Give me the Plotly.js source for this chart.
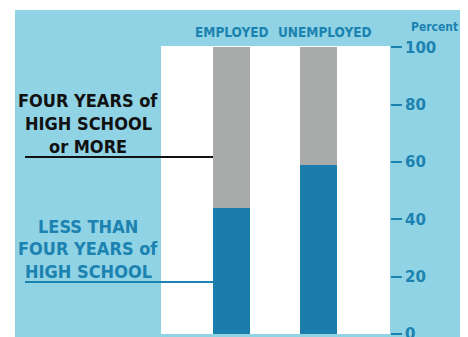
<!DOCTYPE html>
<html>
<head>
<meta charset="utf-8">
<script src="https://cdn.plot.ly/plotly-3.0.1.min.js"></script>
<style>
  html, body { margin: 0; padding: 0; background: #ffffff; width: 468px; height: 337px; overflow: hidden; }
  #chart { position: absolute; left: 15px; top: 10px; width: 445px; height: 327px; }
</style>
</head>
<body>
<div id="chart"></div>
<script>
// Data
const categories = ["EMPLOYED", "UNEMPLOYED"];
const lessThanFourYears = [44, 59];      // percent, dark blue
const fourYearsOrMore = [56, 41];        // percent, grey (stacked on top)
const yTickValues = [0, 20, 40, 60, 80, 100];
const yTickLabels = ["0", "20", "40", "60", "80", "100"];
const upperLabelLines = ["FOUR YEARS of", "HIGH SCHOOL", "or MORE"];
const lowerLabelLines = ["LESS THAN", "FOUR YEARS of", "HIGH SCHOOL"];

const teal = "#1c82b0";
const barBlue = "#1b7dab";
const barGrey = "#a9abab";
const bgBlue = "#8fd3e5";
const condensed = "DejaVu Sans Condensed, DejaVu Sans, sans-serif";
const wide = "DejaVu Sans, sans-serif";

const traces = [
  {
    type: "bar", x: categories, y: lessThanFourYears, width: 0.43,
    marker: { color: barBlue, line: { width: 0 } }, hoverinfo: "skip"
  },
  {
    type: "bar", x: categories, y: fourYearsOrMore, width: 0.43,
    marker: { color: barGrey, line: { width: 0 } }, hoverinfo: "skip"
  }
];

// paper-coordinate helpers based on the plot area geometry
const plotLeft = 161, plotRight = 390, plotTop = 46, plotBottom = 334;
const px = v => (v - plotLeft) / (plotRight - plotLeft);
const py = v => (plotBottom - v) / (plotBottom - plotTop);

const annotations = [];
// category headers above the bars
const headerShift = [0, 7];
categories.forEach((c, i) => annotations.push({
  text: c, xref: "x", yref: "paper", x: c, y: py(32), xshift: headerShift[i],
  xanchor: "center", yanchor: "middle", showarrow: false,
  font: { family: condensed, size: 13.5, color: teal, weight: 700 }
}));
const upperY = [100, 123, 146];
upperLabelLines.forEach((t, i) => annotations.push({
  text: t, xref: "paper", yref: "paper", x: px(88), y: py(upperY[i]),
  xanchor: "center", yanchor: "middle", showarrow: false,
  font: { family: condensed, size: 18, color: "#111111", weight: 700 }
}));
const lowerY = [226, 248, 271];
lowerLabelLines.forEach((t, i) => annotations.push({
  text: t, xref: "paper", yref: "paper", x: px(88), y: py(lowerY[i]),
  xanchor: "center", yanchor: "middle", showarrow: false,
  font: { family: condensed, size: 18, color: teal, weight: 700 }
}));
annotations.push({
  text: "Percent", xref: "paper", yref: "paper", x: px(434), y: py(27),
  xanchor: "center", yanchor: "middle", showarrow: false,
  font: { family: condensed, size: 12, color: teal, weight: 700 }
});

const layout = {
  width: 445, height: 327,
  margin: { l: plotLeft - 15, r: 460 - plotRight, t: plotTop - 10, b: 337 - 10 - (plotBottom - 10) },
  paper_bgcolor: bgBlue,
  plot_bgcolor: "#ffffff",
  barmode: "stack",
  showlegend: false,
  xaxis: {
    type: "category", range: [-0.82, 1.83], showticklabels: false,
    showgrid: false, zeroline: false, showline: false, ticks: "",
    fixedrange: true
  },
  yaxis: {
    side: "right", range: [0, 100.5], tickvals: yTickValues, ticktext: yTickLabels,
    showgrid: false, zeroline: false, showline: false,
    ticks: "outside", ticklen: 11, tickwidth: 2, tickcolor: teal,
    tickfont: { family: wide, size: 15, color: teal, weight: 700 },
    ticklabeloverflow: "allow",
    fixedrange: true
  },
  shapes: [
    { type: "line", xref: "paper", yref: "paper", x0: px(25), x1: px(213), y0: py(157), y1: py(157),
      line: { color: "#111111", width: 2 }, layer: "above" },
    { type: "line", xref: "paper", yref: "paper", x0: px(25), x1: px(213), y0: py(282), y1: py(282),
      line: { color: teal, width: 2 }, layer: "above" }
  ],
  annotations: annotations
};

Plotly.newPlot("chart", traces, layout, { displayModeBar: false, staticPlot: true });
</script>
</body>
</html>
